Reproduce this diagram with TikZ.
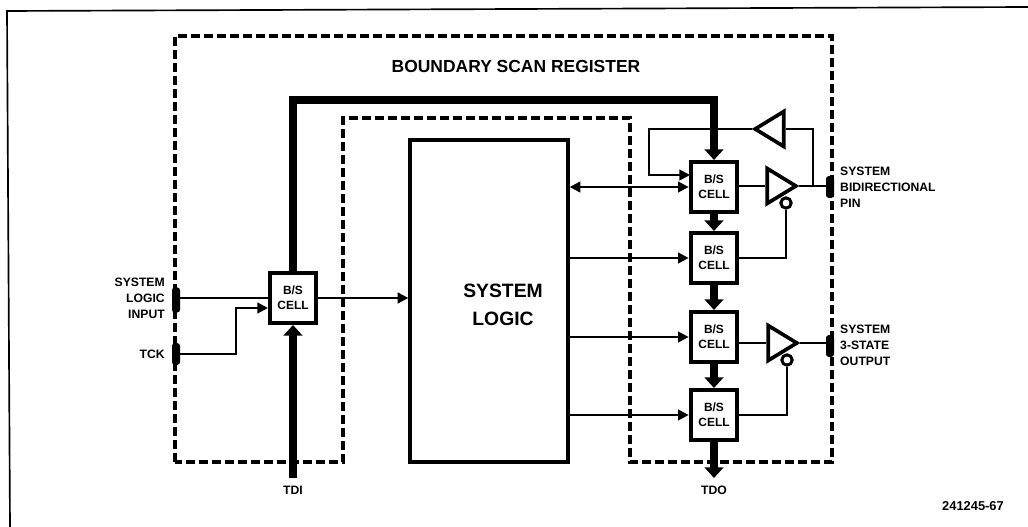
\documentclass[tikz,border=0pt]{standalone}
\usepackage{fontspec}
\setmainfont{Liberation Sans}
\usetikzlibrary{shapes.geometric,arrows.meta}
\tikzset{
    cell/.style={draw, line width=1.2mm, fill=white, minimum width=14mm, minimum height=15mm, inner sep=0pt, align=center, font=\fontsize{10.2}{12.5}\selectfont\bfseries},
    pinlabel/.style={font=\fontsize{10.4}{13.5}\selectfont\bfseries, inner sep=0pt},
    bus/.style={line width=2.4mm, -{Triangle[length=3.2mm,width=5.6mm]}},
    sig/.style={line width=0.65mm},
    sigarrow/.style={sig, -{Triangle[length=3.2mm,width=3.2mm]}},
    buffer/.style={draw, line width=1.1mm, isosceles triangle, isosceles triangle apex angle=62, isosceles triangle stretches, minimum width=10.5mm, minimum height=8.6mm, inner sep=0pt},
    bubble/.style={draw, line width=0.9mm, circle, fill=white, minimum size=3.1mm, inner sep=0pt},
    pinmark/.style={fill=black, rounded corners=0.8mm, minimum width=2.4mm, minimum height=6.5mm, inner sep=0pt},
    bsdash/.style={line width=1.1mm, dash pattern=on 2.6mm off 1.3mm}
}
\begin{document}
\begin{tikzpicture}[x=0.3mm,y=-0.3mm]
    \useasboundingbox (0,0) rectangle (1028,527);
    \draw[line width=0.5mm] (10,527) -- (7,11) -- (1028,7);

    % register outline
    \draw[bsdash] (175,462) -- (175,36) -- (832,36) -- (832,462) -- (630,462) -- (630,118) -- (343,118) -- (343,462) -- cycle;
    \node at (516,66) {\fontsize{14.9}{16}\selectfont\bfseries BOUNDARY SCAN REGISTER};

    % system logic
    \node[draw, line width=1mm, fill=white, minimum width=47.4mm, minimum height=96.6mm, inner sep=0pt] (logic) at (489,301) {};
    \node[align=center, font=\fontsize{16.5}{24}\selectfont\bfseries] (logiclabel) at (503,305) {SYSTEM\\LOGIC};

    % cells
    \node[cell] (cella) at (293,298) {B/S\\CELL};
    \node[cell] (cellb) at (714,187) {B/S\\CELL};
    \node[cell] (cellc) at (714,258) {B/S\\CELL};
    \node[cell] (celld) at (714,337) {B/S\\CELL};
    \node[cell] (celle) at (714,415) {B/S\\CELL};

    % buffers
    \node[buffer, shape border rotate=180] (bufback) at (774,129) {};
    \node[buffer] (bufbidir) at (777,186) {};
    \node[buffer] (bufout) at (778,343) {};
    \node[bubble] (bubbidir) at (786,203) {};
    \node[bubble] (bubout) at (787,360) {};

    % pins
    \node[pinmark, minimum height=7.5mm] (pininput) at (176,300) {};
    \node[pinmark] (pintck) at (176,354) {};
    \node[pinmark] (pinbidir) at (830,187) {};
    \node[pinmark] (pinout) at (830,346) {};

    \coordinate (tdi) at (293,478);
    \coordinate (tdo) at (714,478);
    \coordinate (busa) at (293,100);
    \coordinate (busb) at (714,100);
    \coordinate (backa) at (649,129);
    \coordinate (backb) at (649,175);
    \coordinate (backc) at (813,129);
    \coordinate (backd) at (813,186);
    \coordinate (cellbin) at (690,175);
    \coordinate (tckbend) at (236,354);
    \coordinate (tckin) at (268,308);

    % scan path
    \draw[bus] (tdi) -- (cella.south);
    \draw[bus] (cella.north) -- (busa) -- (busb) -- (cellb.north);
    \draw[bus] (cellb.south) -- (cellc.north);
    \draw[bus] (cellc.south) -- (celld.north);
    \draw[bus] (celld.south) -- (celle.north);
    \draw[bus] (celle.south) -- (tdo);

    % left side signals
    \draw[sig] (pininput.center |- cella) -- (cella.west);
    \draw[sigarrow] (pintck.center) -- (tckbend) |- (tckin);
    \draw[sigarrow] (cella.east) -- (logic.west |- cella);

    % logic to cells
    \draw[sig, {Triangle[length=3.2mm,width=3.2mm]}-{Triangle[length=3.2mm,width=3.2mm]}] (logic.east |- cellb) -- (cellb.west);
    \draw[sigarrow] (logic.east |- cellc) -- (cellc.west);
    \draw[sigarrow] (logic.east |- celld) -- (celld.west);
    \draw[sigarrow] (logic.east |- celle) -- (celle.west);

    % feedback and outputs
    \draw[sigarrow] (bufback.apex) -- (backa) -- (backb) -- (cellbin);
    \draw[sig] (bufback.east) -- (backc) -- (backd);
    \draw[sig] (cellb.east |- bufbidir) -- (bufbidir.west);
    \draw[sig] (bufbidir.apex) -- (pinbidir.center |- bufbidir);
    \draw[sig] (cellc.east) -| (bubbidir.south);
    \draw[sig] (celld.east |- bufout) -- (bufout.west);
    \draw[sig] (bufout.apex) -- (pinout.center |- bufout);
    \draw[sig] (celle.east) -| (bubout.south);

    % pin labels
    \node[pinlabel, anchor=east, align=right] (inputlabel) at (165,298) {SYSTEM\\LOGIC\\INPUT};
    \node[pinlabel, anchor=east] (tcklabel) at (165,354) {TCK};
    \node[pinlabel, anchor=west, align=left] (bidirlabel) at (840,187) {SYSTEM\\BIDIRECTIONAL\\PIN};
    \node[pinlabel, anchor=west, align=left] (outlabel) at (840,345) {SYSTEM\\3-STATE\\OUTPUT};
    \node[pinlabel] (tdilabel) at (293,490) {TDI};
    \node[pinlabel] (tdolabel) at (714,490) {TDO};
    \node[pinlabel, font=\fontsize{11}{13}\selectfont\bfseries] (figlabel) at (973,506) {241245-67};
\end{tikzpicture}
\end{document}
